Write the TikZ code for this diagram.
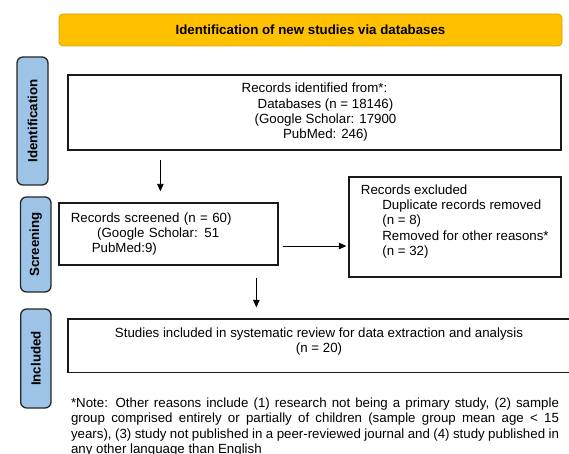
\documentclass[tikz,border=0pt]{standalone}
\usepackage{fontspec}
\setmainfont{Liberation Sans}
\usetikzlibrary{arrows.meta,calc}
\definecolor{gold}{HTML}{FFC000}
\definecolor{goldline}{HTML}{D6A300}
\definecolor{lblue}{HTML}{9DC3E6}
\newcommand{\txtsize}{\fontsize{13.3}{15.3}\selectfont}
\begin{document}
\begin{tikzpicture}[x=1pt,y=-1pt,
  box/.style={draw=black!90, line width=1.3pt, inner sep=0pt},
  lab/.style={draw=black!85, fill=lblue, line width=1.3pt, rounded corners=6pt, rotate=90, font=\txtsize\bfseries, inner sep=0pt},
  txt/.style={font=\txtsize, inner sep=0pt},
  arr/.style={-{Triangle[length=7.5pt,width=6.5pt]}, line width=0.9pt}]
\useasboundingbox (0,0) rectangle (569,454);

\node[draw=goldline, fill=gold, line width=0.8pt, rounded corners=4pt, minimum width=503pt, minimum height=32pt, inner sep=0pt, font=\txtsize\bfseries] (title) at (310.5,30) {Identification of new studies via databases};

\node[lab, minimum width=128pt, minimum height=31pt] (lid) at (32.5,121) {Identification};
\node[lab, minimum width=95pt, minimum height=30.5pt] (lsc) at (35.75,244.5) {Screening};
\node[lab, minimum width=99pt, minimum height=30.3pt] (lin) at (35.85,358.5) {Included};

\node[box, txt, minimum width=493pt, minimum height=75pt, align=center] (ident) at (314.5,112.5) {Records identified from*:\\ \hspace*{22pt}Databases (n = 18146)\\ \hspace*{22pt}(Google Scholar: 17900\\ \hspace*{22pt}PubMed: 246)};

\node[box, txt, minimum width=219pt, minimum height=62pt, align=left, text width=195.4pt] (screen) at (168.5,234) {Records screened (n = 60)\\ \hspace*{26.4pt}(Google Scholar: 51\\ \hspace*{21pt}PubMed:9)};

\node[box, minimum width=212pt, minimum height=100pt] (excl) at (455,227) {};
\node[txt, align=left, anchor=north west] (excltxt) at ($(excl.north west)+(12.4,8.1)$) {Records excluded\\ \hspace*{21.4pt}Duplicate records removed\\ \hspace*{21.4pt}(n = 8)\\ \hspace*{21.4pt}Removed for other reasons*\\ \hspace*{21.4pt}(n = 32)};

\node[box, minimum width=502pt, minimum height=53.7pt] (incl) at (319,345.85) {};
\node[txt, align=center] (incltxt) at ([yshift=4pt]incl.center) {Studies included in systematic review for data extraction and analysis\\ (n = 20)};

\node[txt, anchor=north west, text width=488pt, align=justify] (note) at (70.8,397.6) {*Note: Other reasons include (1) research not being a primary study, (2) sample\linebreak group comprised entirely or partially of children (sample group mean age < 15\linebreak years), (3) study not published in a peer-reviewed journal and (4) study published in\linebreak any other language than English};

\draw[arr, shorten <=9pt, shorten >=11pt] ([xshift=93pt]ident.south west) -- ([xshift=102pt]screen.north west);
\draw[arr, shorten <=4pt, shorten >=2pt] ([yshift=-12pt]screen.east) -- ([yshift=-12pt]screen.east -| excl.west);
\draw[arr, shorten <=12pt, shorten >=11pt] ([xshift=198pt]screen.south west) -- ([xshift=198pt]screen.south west |- incl.north);
\end{tikzpicture}
\end{document}
